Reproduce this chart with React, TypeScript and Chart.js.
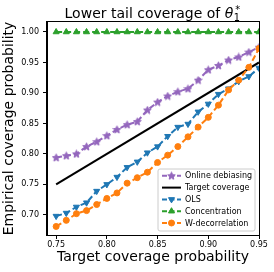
import React, { useEffect, useRef } from "react";
import { Chart, registerables } from "chart.js";

Chart.register(...registerables);

const targetLevels = [0.75, 0.76, 0.77, 0.78, 0.79, 0.8, 0.81, 0.82, 0.83, 0.84, 0.85, 0.86, 0.87, 0.88, 0.89, 0.9, 0.91, 0.92, 0.93, 0.94, 0.95];
const onlineDebiasing = [0.794, 0.797, 0.8, 0.812, 0.82, 0.83, 0.84, 0.848, 0.853, 0.872, 0.885, 0.895, 0.902, 0.907, 0.921, 0.938, 0.945, 0.954, 0.959, 0.967, 0.975];
const targetLineX = [0.75, 0.95];
const targetLineY = [0.75, 0.95];
const ols = [0.698, 0.703, 0.713, 0.72, 0.739, 0.75, 0.762, 0.778, 0.787, 0.802, 0.812, 0.829, 0.844, 0.849, 0.869, 0.882, 0.898, 0.907, 0.919, 0.927, 0.941];
const concentration = [1, 1, 1, 1, 1, 1, 1, 1, 1, 1, 1, 1, 1, 1, 1, 1, 1, 1, 1, 1, 1];
const wDecorrelation = [0.681, 0.691, 0.702, 0.707, 0.717, 0.727, 0.736, 0.752, 0.761, 0.77, 0.786, 0.798, 0.812, 0.828, 0.844, 0.86, 0.88, 0.905, 0.921, 0.942, 0.973];
const xTicks = [0.75, 0.8, 0.85, 0.9, 0.95];
const yTicks = [0.7, 0.75, 0.8, 0.85, 0.9, 0.95, 1.0];

const PURPLE = "#9467bd";
const BLUE = "#1f77b4";
const GREEN = "#2ca02c";
const ORANGE = "#ff7f0e";
const FONT = '"DejaVu Sans", sans-serif';

function starPath(ctx: CanvasRenderingContext2D, cx: number, cy: number, R: number) {
  const r = R * 0.45;
  ctx.beginPath();
  for (let i = 0; i < 10; i++) {
    const rad = (Math.PI / 5) * i - Math.PI / 2;
    const rr = i % 2 === 0 ? R : r;
    const px = cx + Math.cos(rad) * rr;
    const py = cy + Math.sin(rad) * rr;
    if (i === 0) ctx.moveTo(px, py);
    else ctx.lineTo(px, py);
  }
  ctx.closePath();
}

function makeStar(color: string): HTMLCanvasElement {
  const c = document.createElement("canvas");
  c.width = 9;
  c.height = 9;
  const g = c.getContext("2d")!;
  g.fillStyle = color;
  g.strokeStyle = color;
  g.lineWidth = 1;
  starPath(g, 4.5, 4.8, 4);
  g.fill();
  g.stroke();
  return c;
}

function pts(xs: number[], ys: number[]) {
  return xs.map((x, i) => ({ x, y: ys[i] }));
}

const legendItems = [
  { label: "Online debiasing", color: PURPLE, marker: "star", dash: true },
  { label: "Target coverage", color: "#000", marker: "none", dash: false },
  { label: "OLS", color: BLUE, marker: "tridown", dash: true },
  { label: "Concentration", color: GREEN, marker: "triup", dash: true },
  { label: "W-decorrelation", color: ORANGE, marker: "circle", dash: true },
];

export default function App() {
  const ref = useRef<HTMLCanvasElement | null>(null);

  useEffect(() => {
    if (!ref.current) return;
    const star = makeStar(PURPLE);

    const drawMarker = (ctx: CanvasRenderingContext2D, kind: string, x: number, y: number, color: string) => {
      ctx.save();
      ctx.fillStyle = color;
      ctx.strokeStyle = color;
      ctx.lineWidth = 1;
      ctx.setLineDash([]);
      if (kind === "circle") {
        ctx.beginPath();
        ctx.arc(x, y, 3, 0, Math.PI * 2);
        ctx.fill();
        ctx.stroke();
      } else if (kind === "triup" || kind === "tridown") {
        const s = kind === "triup" ? 1 : -1;
        const r = 3.5;
        ctx.beginPath();
        for (let i = 0; i < 3; i++) {
          const rad = (i * 2 * Math.PI) / 3;
          const px = x + Math.sin(rad) * r;
          const py = y - s * Math.cos(rad) * r;
          if (i === 0) ctx.moveTo(px, py);
          else ctx.lineTo(px, py);
        }
        ctx.closePath();
        ctx.fill();
        ctx.stroke();
      } else if (kind === "star") {
        ctx.drawImage(star, x - 4.5, y - 4.5);
      }
      ctx.restore();
    };

    const decorPlugin = {
      id: "decor",
      afterDraw(chart: any) {
        const { ctx, chartArea } = chart;
        const a = chartArea;
        ctx.save();
        // full frame
        ctx.strokeStyle = "#000";
        ctx.lineWidth = 1;
        ctx.setLineDash([]);
        ctx.strokeRect(Math.round(a.left) - 0.5, Math.round(a.top) - 0.5, Math.round(a.right - a.left) + 1, Math.round(a.bottom - a.top) + 1);

        // title with math
        const mainSize = 14;
        const part1 = "Lower tail coverage of ";
        ctx.fillStyle = "#000";
        ctx.textBaseline = "alphabetic";
        ctx.font = `${mainSize}px ${FONT}`;
        const w1 = ctx.measureText(part1).width;
        ctx.font = `italic ${mainSize}px ${FONT}`;
        const wTheta = ctx.measureText("θ").width;
        ctx.font = `${mainSize * 0.7}px ${FONT}`;
        const wSub = ctx.measureText("1").width;
        const total = w1 + wTheta + wSub + 2;
        const cx = (a.left + a.right) / 2;
        let x = cx - total / 2;
        const base = 18;
        ctx.textAlign = "left";
        ctx.font = `${mainSize}px ${FONT}`;
        ctx.fillText(part1, x, base);
        x += w1;
        ctx.font = `italic ${mainSize}px ${FONT}`;
        ctx.fillText("θ", x, base);
        x += wTheta + 0.5;
        ctx.font = `${mainSize * 0.7}px ${FONT}`;
        ctx.fillText("1", x, base + 3);
        ctx.fillText("*", x + 1.5, base - 5.5);

        // legend
        const lw = 97;
        const lh = 62;
        const lx = a.right - 4 - lw;
        const ly = a.bottom - 4 - lh;
        ctx.beginPath();
        const rr = 2;
        ctx.moveTo(lx + rr, ly);
        ctx.lineTo(lx + lw - rr, ly);
        ctx.arcTo(lx + lw, ly, lx + lw, ly + rr, rr);
        ctx.lineTo(lx + lw, ly + lh - rr);
        ctx.arcTo(lx + lw, ly + lh, lx + lw - rr, ly + lh, rr);
        ctx.lineTo(lx + rr, ly + lh);
        ctx.arcTo(lx, ly + lh, lx, ly + lh - rr, rr);
        ctx.lineTo(lx, ly + rr);
        ctx.arcTo(lx, ly, lx + rr, ly, rr);
        ctx.closePath();
        ctx.fillStyle = "rgba(255,255,255,0.8)";
        ctx.fill();
        ctx.strokeStyle = "#cccccc";
        ctx.lineWidth = 1;
        ctx.stroke();

        ctx.font = `8px ${FONT}`;
        ctx.textBaseline = "middle";
        legendItems.forEach((it, i) => {
          const yy = ly + 6.8 + i * 11.8;
          const x0 = lx + 4;
          const x1 = lx + 23;
          ctx.strokeStyle = it.color;
          ctx.lineWidth = 2;
          ctx.setLineDash(it.dash ? [5, 2.5] : []);
          ctx.beginPath();
          ctx.moveTo(x0, yy);
          ctx.lineTo(x1, yy);
          ctx.stroke();
          ctx.setLineDash([]);
          drawMarker(ctx, it.marker, (x0 + x1) / 2, yy, it.color);
          ctx.fillStyle = "#000";
          ctx.fillText(it.label, lx + 27, yy + 0.5);
        });
        ctx.restore();
      },
    };

    const dashed = [6, 3];
    const chart = new Chart(ref.current, {
      type: "line",
      data: {
        datasets: [
          {
            label: "Online debiasing",
            data: pts(targetLevels, onlineDebiasing),
            borderColor: PURPLE,
            backgroundColor: PURPLE,
            borderWidth: 2,
            borderDash: dashed,
            pointStyle: star as any,
            pointRadius: 4,
            order: 5,
            clip: 0,
          },
          {
            label: "Target coverage",
            data: pts(targetLineX, targetLineY),
            borderColor: "#000",
            backgroundColor: "#000",
            borderWidth: 2,
            pointRadius: 0,
            order: 4,
            clip: 0,
          },
          {
            label: "OLS",
            data: pts(targetLevels, ols),
            borderColor: BLUE,
            backgroundColor: BLUE,
            pointBackgroundColor: BLUE,
            pointBorderColor: BLUE,
            borderWidth: 2,
            borderDash: dashed,
            pointStyle: "triangle",
            pointRotation: 180,
            pointRadius: 3.5,
            pointBorderWidth: 1,
            order: 3,
            clip: 0,
          },
          {
            label: "Concentration",
            data: pts(targetLevels, concentration),
            borderColor: GREEN,
            backgroundColor: GREEN,
            pointBackgroundColor: GREEN,
            pointBorderColor: GREEN,
            borderWidth: 2,
            borderDash: dashed,
            pointStyle: "triangle",
            pointRadius: 3.5,
            pointBorderWidth: 1,
            order: 2,
            clip: 0,
          },
          {
            label: "W-decorrelation",
            data: pts(targetLevels, wDecorrelation),
            borderColor: ORANGE,
            backgroundColor: ORANGE,
            pointBackgroundColor: ORANGE,
            pointBorderColor: ORANGE,
            borderWidth: 2,
            borderDash: dashed,
            pointStyle: "circle",
            pointRadius: 3,
            pointBorderWidth: 1,
            order: 1,
            clip: 0,
          },
        ] as any,
      },
      options: {
        animation: false,
        responsive: false,
        maintainAspectRatio: false,
        layout: { padding: { top: 22, right: 15, left: 0, bottom: 0 } },
        plugins: {
          legend: { display: false },
          title: { display: false },
          tooltip: { enabled: false },
        },
        elements: { line: { tension: 0 } },
        scales: {
          x: {
            type: "linear",
            min: 0.741,
            max: 0.95,
            afterFit: (s: any) => {
              s.height = 37;
            },
            afterBuildTicks: (s: any) => {
              s.ticks = xTicks.map((v) => ({ value: v }));
            },
            ticks: {
              font: { family: FONT, size: 8 },
              color: "#000",
              padding: 1,
              maxRotation: 0,
              autoSkip: false,
              callback: (v: any) => Number(v).toFixed(2),
            },
            grid: { display: true, drawOnChartArea: false, drawTicks: true, tickLength: 4, color: "#000", lineWidth: 1 },
            border: { display: true, color: "#000", width: 1 },
            title: {
              display: true,
              text: "Target coverage probability",
              font: { family: FONT, size: 14 },
              color: "#000",
              padding: { top: 0, bottom: 6 },
            },
          },
          y: {
            type: "linear",
            min: 0.667,
            max: 1.0164,
            afterFit: (s: any) => {
              s.width = 47;
            },
            afterBuildTicks: (s: any) => {
              s.ticks = yTicks.map((v) => ({ value: v }));
            },
            ticks: {
              font: { family: FONT, size: 8 },
              color: "#000",
              padding: 4,
              autoSkip: false,
              callback: (v: any) => Number(v).toFixed(2),
            },
            grid: { display: true, drawOnChartArea: false, drawTicks: true, tickLength: 4, color: "#000", lineWidth: 1 },
            border: { display: true, color: "#000", width: 1 },
            title: {
              display: true,
              text: "Empirical coverage probability",
              font: { family: FONT, size: 14 },
              color: "#000",
              padding: { top: 1, bottom: 0 },
            },
          },
        },
      },
      plugins: [decorPlugin],
    });
    return () => chart.destroy();
  }, []);

  return (
    <div style={{ position: "fixed", left: 0, top: 0, width: 274, height: 272, background: "#fff" }}>
      <canvas ref={ref} width={274} height={272} style={{ display: "block", width: 274, height: 272 }} />
    </div>
  );
}
